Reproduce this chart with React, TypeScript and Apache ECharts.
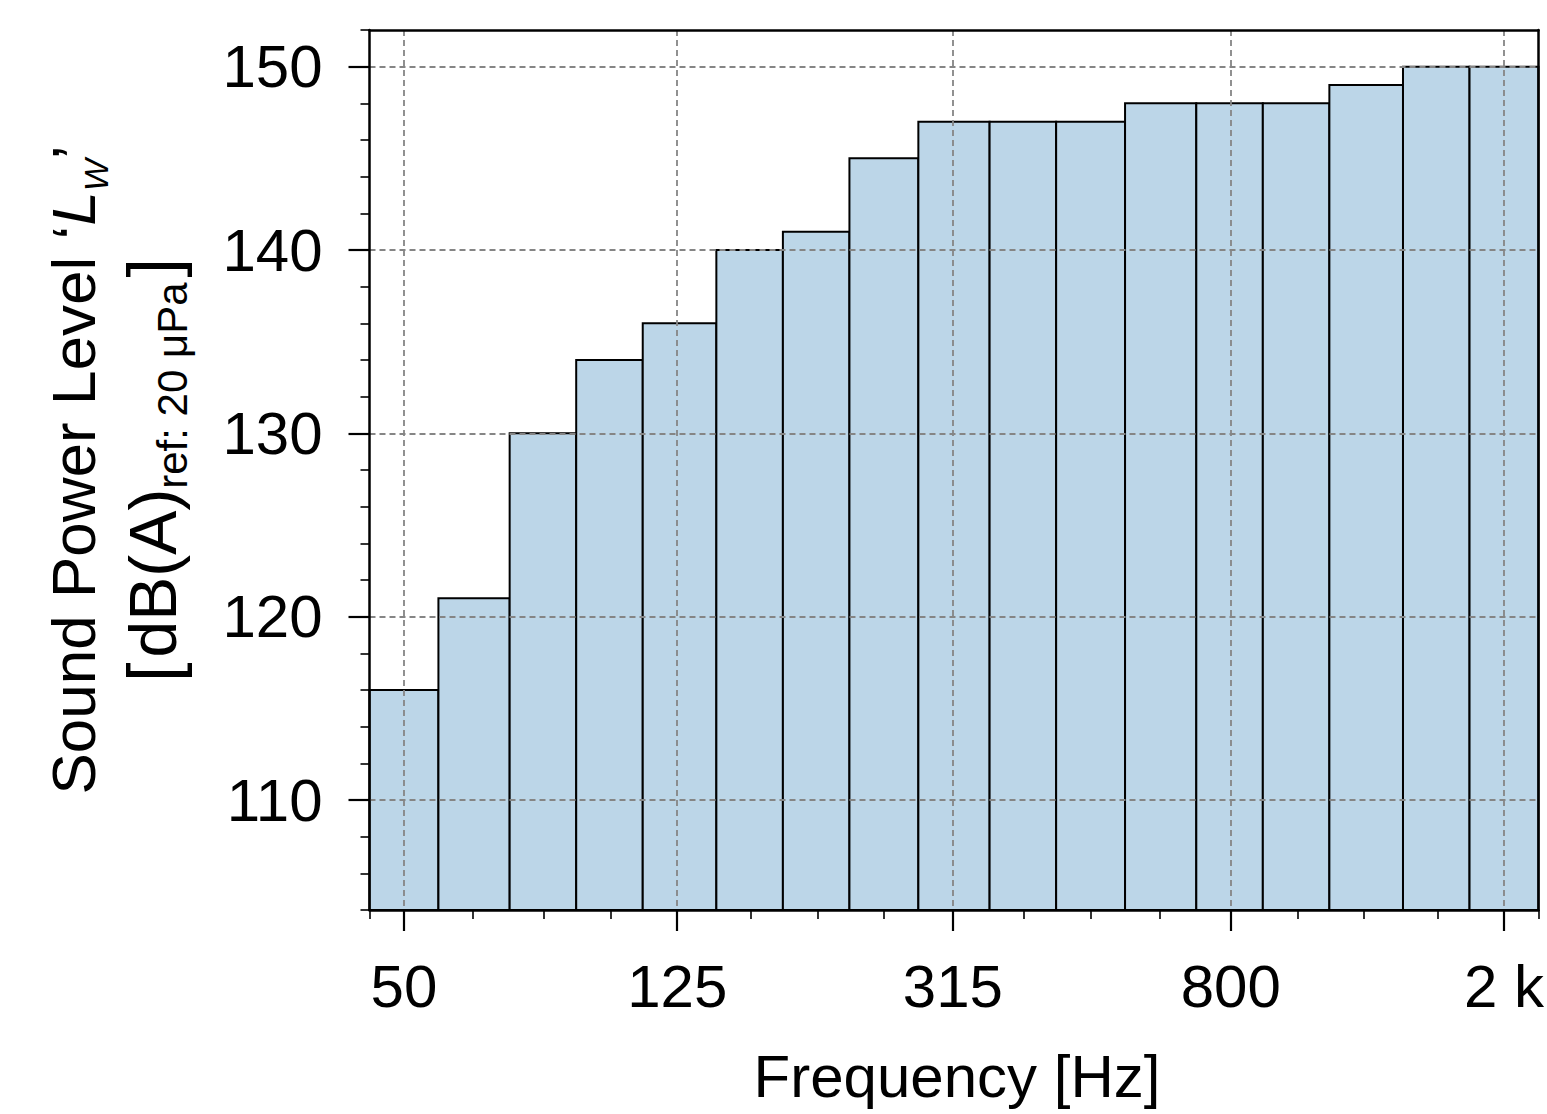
import React, { useEffect, useRef } from 'react';
import * as echarts from 'echarts';

// Third-octave band centres [Hz] and sound power level per band [dB(A)]
const bandCenters = [50, 63, 80, 100, 125, 160, 200, 250, 315, 400, 500, 630, 800, 1000, 1250, 1600, 2000];
const levels = [116, 121, 130, 134, 136, 140, 141, 145, 147, 147, 147, 148, 148, 148, 149, 150, 150];

// Axis ticks
const xMajorTicks = [50, 125, 315, 800, 2000];
const xMajorLabels = ['50', '125', '315', '800', '2 k'];
const yMajorTicks = [110, 120, 130, 140, 150];
const yMinorTicks = [104, 106, 108, 112, 114, 116, 118, 122, 124, 126, 128, 132, 134, 136, 138, 142, 144, 146, 148, 152];
const yMin = 104;
const yMax = 152;

const FONT = '"Liberation Sans", Arial, sans-serif';

export default function App() {
  const ref = useRef<HTMLDivElement>(null);

  useEffect(() => {
    if (!ref.current) return;
    const chart = echarts.init(ref.current, null, { renderer: 'svg', width: 1547, height: 1114 });

    const k = Math.pow(2, 1 / 6);
    const n = bandCenters.length;
    const xMin = Math.log10(bandCenters[0] / k);
    const xMax = Math.log10(bandCenters[n - 1] * k);

    const barData = bandCenters.map((fc, i) => {
      const lo = fc / k;
      const hi = i < n - 1 ? bandCenters[i + 1] / k : fc * k;
      return [Math.log10(lo), Math.log10(hi), levels[i]];
    });

    const majorX = xMajorTicks.map((f) => Math.log10(f));
    const minorX = [xMin]
      .concat(bandCenters.filter((f) => xMajorTicks.indexOf(f) < 0).map((f) => Math.log10(f)))
      .concat([xMax]);

    const gridLine = { show: true, lineStyle: { color: '#858585', type: [6, 4] as any, width: 1.8 } };
    const spine = { show: true, onZero: false, lineStyle: { color: '#000', width: 2.5 } };

    const option: any = {
      animation: false,
      backgroundColor: '#fff',
      grid: { left: 369.5, width: 1175, top: 30, height: 880, containLabel: false },
      xAxis: [
        {
          type: 'value', min: xMin, max: xMax, position: 'bottom', z: 5,
          axisLine: spine,
          axisTick: { show: true, customValues: majorX, length: 21, lineStyle: { color: '#000', width: 2.2 } },
          axisLabel: {
            show: true, customValues: majorX, margin: 46, fontSize: 60, color: '#000', fontFamily: FONT,
            formatter: (v: number) => {
              const idx = majorX.findIndex((m) => Math.abs(m - v) < 1e-6);
              return idx >= 0 ? xMajorLabels[idx] : '';
            },
          },
          splitLine: gridLine,
        },
        {
          type: 'value', min: xMin, max: xMax, position: 'bottom', z: 5,
          axisLine: { show: false, onZero: false },
          axisTick: { show: true, customValues: minorX, length: 9, lineStyle: { color: '#000', width: 1.6 } },
          axisLabel: { show: false },
          splitLine: { show: false },
        },
        {
          type: 'value', min: xMin, max: xMax, position: 'top', z: 5,
          axisLine: spine, axisTick: { show: false }, axisLabel: { show: false }, splitLine: { show: false },
        },
      ],
      yAxis: [
        {
          type: 'value', min: yMin, max: yMax, position: 'left', z: 5,
          axisLine: spine,
          axisTick: { show: true, customValues: yMajorTicks, length: 21, lineStyle: { color: '#000', width: 2.2 } },
          axisLabel: { show: true, customValues: yMajorTicks, margin: 47, fontSize: 60, color: '#000', fontFamily: FONT },
          splitLine: gridLine,
        },
        {
          type: 'value', min: yMin, max: yMax, position: 'left', z: 5,
          axisLine: { show: false, onZero: false },
          axisTick: { show: true, customValues: yMinorTicks, length: 9, lineStyle: { color: '#000', width: 1.6 } },
          axisLabel: { show: false },
          splitLine: { show: false },
        },
        {
          type: 'value', min: yMin, max: yMax, position: 'right', z: 5,
          axisLine: spine, axisTick: { show: false }, axisLabel: { show: false }, splitLine: { show: false },
        },
      ],
      series: [
        {
          type: 'custom',
          xAxisIndex: 0,
          yAxisIndex: 0,
          z: 2,
          data: barData,
          encode: { x: [0, 1], y: 2 },
          renderItem: (params: any, api: any) => {
            const p1 = api.coord([api.value(0), api.value(2)]);
            const p2 = api.coord([api.value(1), yMin]);
            return {
              type: 'rect',
              shape: { x: p1[0], y: p1[1], width: p2[0] - p1[0], height: p2[1] - p1[1] },
              style: { fill: '#bcd6e8', stroke: '#000', lineWidth: 2 },
            };
          },
        },
      ],
      graphic: [
        {
          type: 'text',
          x: 113,
          y: 470,
          rotation: Math.PI / 2,
          style: {
            text: '{n1|Sound Power Level ‘}{it|L}{sub|W}{n1|’}\n{br|[}{n2|dB(A)}{sub2|ref: 20 μPa}{br|]}',
            fill: '#000',
            fontSize: 62,
            fontFamily: FONT,
            align: 'center',
            verticalAlign: 'middle',
            lineHeight: 80,
            rich: {
              n1: { fontSize: 62, fontStyle: 'normal', fontFamily: FONT, lineHeight: 80, fill: '#000' },
              it: { fontSize: 62, fontStyle: 'italic', fontFamily: FONT, lineHeight: 80, fill: '#000' },
              sub: { fontSize: 34, fontStyle: 'italic', fontFamily: FONT, lineHeight: 40, verticalAlign: 'bottom', fill: '#000' },
              n2: { fontSize: 66, fontStyle: 'normal', fontFamily: FONT, lineHeight: 80, fill: '#000' },
              br: { fontSize: 70, fontStyle: 'normal', fontFamily: FONT, lineHeight: 80, fill: '#000', padding: [0, 5, 0, 5] },
              sub2: { fontSize: 42, fontStyle: 'normal', fontFamily: FONT, lineHeight: 47, verticalAlign: 'bottom', fill: '#000' },
            },
          },
        },
        {
          type: 'text',
          x: 957,
          y: 1076,
          style: {
            text: 'Frequency [Hz]',
            fill: '#000',
            fontSize: 60,
            fontFamily: FONT,
            align: 'center',
            verticalAlign: 'middle',
          },
        },
      ],
    };

    chart.setOption(option);
    return () => chart.dispose();
  }, []);

  return <div ref={ref} style={{ position: 'fixed', left: 0, top: 0, width: 1547, height: 1114 }} />;
}
